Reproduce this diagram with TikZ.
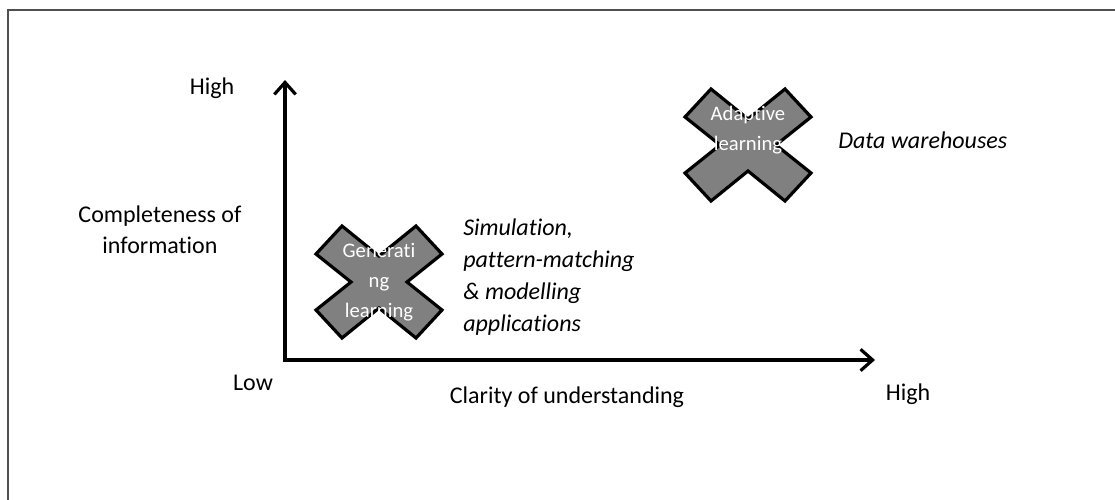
\documentclass[tikz,border=0pt]{standalone}
\usepackage{fontspec}
\setmainfont{Carlito}[Ligatures=NoCommon]
\usetikzlibrary{arrows.meta}
\definecolor{crossgray}{HTML}{808080}
\definecolor{framegray}{HTML}{505050}
\begin{document}
\begin{tikzpicture}[x=0.75pt,y=-0.75pt,
  lbl/.style={inner sep=0pt,font=\fontsize{18}{23}\selectfont},
  itl/.style={inner sep=0pt,align=left,font=\fontsize{18}{24}\selectfont\itshape},
  crosslbl/.style={inner sep=0pt,align=center,text=white,font=\fontsize{15.5}{22.5}\selectfont},
  axis/.style={line width=3pt,-{Straight Barb[length=9pt,width=16pt,line width=2.4pt]}},
  crossshape/.style={fill=crossgray,draw=black,line width=2.4pt,line join=miter}]
\useasboundingbox (0,0) rectangle (1115,500);
\draw[framegray,line width=1.4pt] (8,500) -- (8,10) -- (1115,10);
% axes
\coordinate (O) at (285,360);
\coordinate (ytip) at (285,80);
\coordinate (xtip) at (875,360);
\draw[axis] (O) -- (ytip);
\draw[axis] ([xshift=-1.5pt]O) -- (xtip);
% crosses
\foreach \n/\cx/\cy in {g/379/282, a/748/145}{
  \draw[crossshape] (\cx-63,\cy-28) -- (\cx-37,\cy-56) -- (\cx,\cy-26) -- (\cx+37,\cy-56)
    -- (\cx+63,\cy-28) -- (\cx+28,\cy) -- (\cx+63,\cy+28) -- (\cx+37,\cy+56)
    -- (\cx,\cy+26) -- (\cx-37,\cy+56) -- (\cx-63,\cy+28) -- (\cx-28,\cy) -- cycle;
}
\node[crosslbl] (gl) at (379,282) {Generati\\ng\\learning};
\node[crosslbl] (al) at (748,130) {Adaptive\\learning};
% labels
\node[lbl] (hy) at (212,88) {High};
\node[lbl,align=center] (cy) at (160,230) {Completeness of\\information};
\node[lbl] (lo) at (253,383) {Low};
\node[lbl] (cx) at (567,397) {Clarity of understanding};
\node[lbl] (hx) at (908,394) {High};
\node[itl,anchor=west] (sim) at (463,277) {Simulation,\\pattern-matching\\\& modelling\\applications};
\node[itl,anchor=west] (dw) at (838,140) {Data warehouses};
\end{tikzpicture}
\end{document}
